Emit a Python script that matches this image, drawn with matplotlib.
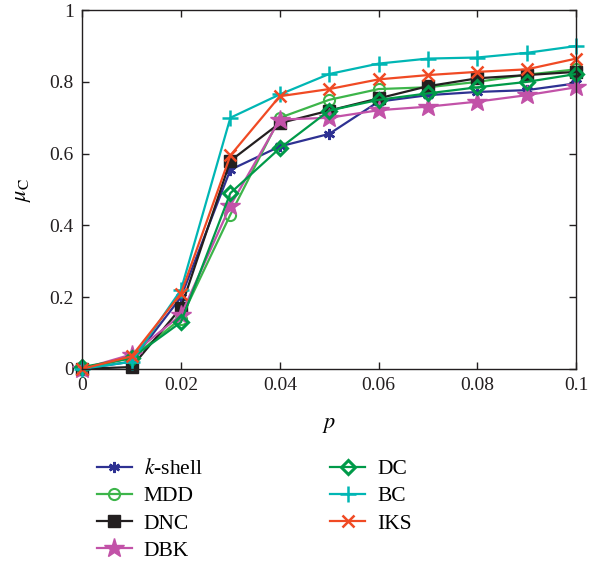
import matplotlib.pyplot as plt

plt.rcParams['font.family'] = ['Liberation Serif', 'DejaVu Serif']
plt.rcParams['mathtext.fontset'] = 'stix'

# ---------- data ----------
p = [0.0, 0.01, 0.02, 0.03, 0.04, 0.05, 0.06, 0.07, 0.08, 0.09, 0.1]

kshell = [0.0, 0.02, 0.20, 0.555, 0.62, 0.655, 0.745, 0.763, 0.772, 0.777, 0.796]
mdd = [0.0, 0.03, 0.14, 0.43, 0.70, 0.75, 0.78, 0.785, 0.80, 0.82, 0.835]
dnc = [0.0, 0.005, 0.17, 0.58, 0.685, 0.72, 0.754, 0.788, 0.81, 0.819, 0.828]
dbk = [0.0, 0.04, 0.15, 0.455, 0.695, 0.70, 0.721, 0.731, 0.745, 0.763, 0.785]
dc = [0.005, 0.03, 0.13, 0.49, 0.615, 0.72, 0.75, 0.768, 0.785, 0.80, 0.822]
bc = [0.0, 0.02, 0.22, 0.70, 0.765, 0.822, 0.851, 0.865, 0.868, 0.881, 0.90]
iks = [0.0, 0.035, 0.21, 0.595, 0.76, 0.78, 0.807, 0.819, 0.828, 0.835, 0.865]

labels = [r'$\mathit{k}$-shell', 'MDD', 'DNC', 'DBK', 'DC', 'BC', 'IKS']
series = [kshell, mdd, dnc, dbk, dc, bc, iks]
colors = ['#2E3192', '#3DB54A', '#231F20', '#C252A8', '#009A49', '#00B6B4', '#F04A24']

# marker styles per series
styles = [
    dict(marker=(6, 2, 0), ms=8, mew=1.8),
    dict(marker='o', ms=8, mfc='none', mew=1.5),
    dict(marker='s', ms=8),
    dict(marker='*', ms=15),
    dict(marker='D', ms=7, mfc='none', mew=2.2),
    dict(marker='+', ms=11, mew=1.8),
    dict(marker='x', ms=9, mew=1.8),
]

fig = plt.figure(figsize=(6.04, 5.64), dpi=100)
ax = fig.add_axes([0.136, 0.346, 0.818, 0.636])

for y, lab, c, st in zip(series, labels, colors, styles):
    ax.plot(p, y, color=c, lw=1.6, label=lab, **st)

ax.set_xlim(0, 0.1)
ax.set_ylim(0, 1)
ax.set_xticks([0, 0.02, 0.04, 0.06, 0.08, 0.1])
ax.set_xticklabels(['0', '0.02', '0.04', '0.06', '0.08', '0.1'])
ax.set_yticks([0, 0.2, 0.4, 0.6, 0.8, 1])
ax.set_yticklabels(['0', '0.2', '0.4', '0.6', '0.8', '1'])
ax.tick_params(direction='in', top=True, right=True, labelsize=14, length=5,
               width=1, colors='#231F20', pad=6)
for s in ax.spines.values():
    s.set_linewidth(1.0)
    s.set_color('#231F20')
for ln in ax.lines:
    ln.set_clip_on(False)

ax.set_xlabel(r'$\mathit{p}$', fontsize=16, labelpad=16)
ax.set_ylabel(r'$\mu_{\mathrm{C}}$', fontsize=16, labelpad=12)

fig.legend(loc='upper left', bbox_to_anchor=(0.142, 0.205), ncol=2,
           frameon=False, fontsize=15.5, handlelength=1.65, columnspacing=5.9,
           labelspacing=0.33, handletextpad=0.55, borderpad=0)

fig.savefig('out.png', dpi=100)
